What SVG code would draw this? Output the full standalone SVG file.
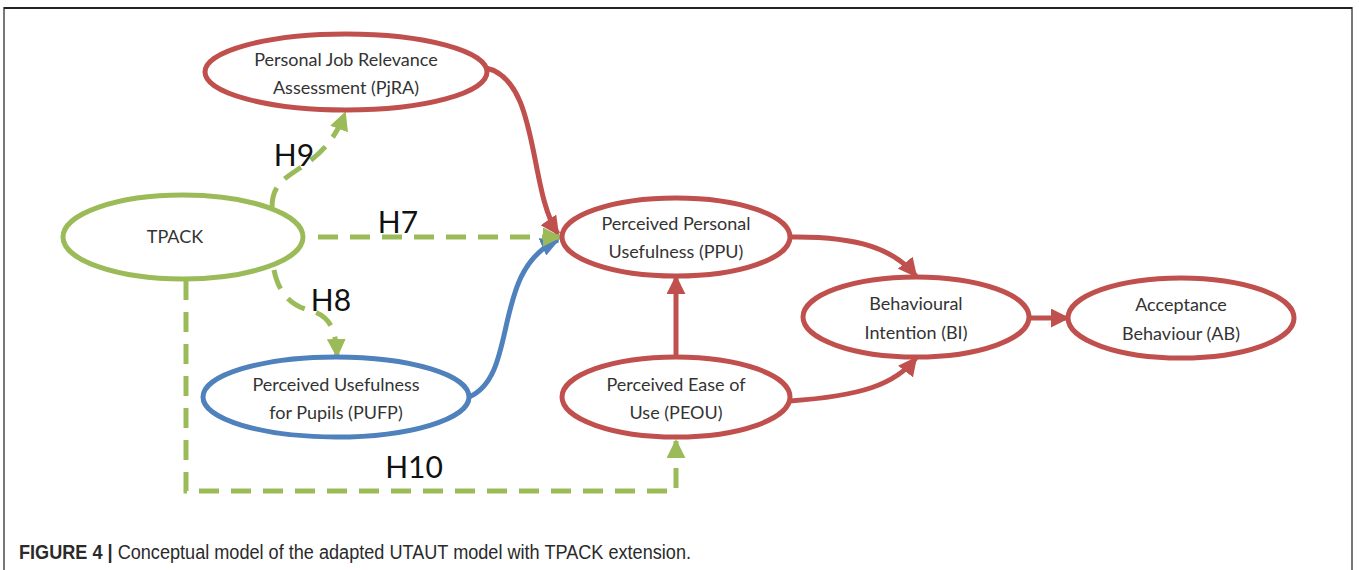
<svg xmlns="http://www.w3.org/2000/svg" width="1359" height="570" viewBox="0 0 1359 570">
<style>
.node{fill:#fff;stroke-width:5}
.red{stroke:#c0504d}
.grn{stroke:#9bbb59}
.blu{stroke:#4f81bd}
.lbl{font-family:Lato,"Open Sans","Liberation Sans",sans-serif;font-size:18px;fill:#333;text-anchor:middle}
.h{font-family:Lato,"Open Sans","Liberation Sans",sans-serif;font-size:30px;fill:#111;text-anchor:middle}
.c{fill:none;stroke-width:5}
.dash{stroke-dasharray:20 12}
.cap{font-family:"Liberation Sans",Arial,sans-serif;font-size:20px;fill:#2a2a2a}
</style>
<defs>
<marker id="ar" viewBox="0 0 10 10" refX="9" refY="5" markerWidth="3.8" markerHeight="3.8" orient="auto" markerUnits="strokeWidth"><path d="M0,0 L10,5 L0,10 Z" fill="#c0504d"/></marker>
<marker id="ag" viewBox="0 0 10 10" refX="9" refY="5" markerWidth="3.8" markerHeight="3.8" orient="auto" markerUnits="strokeWidth"><path d="M0,0 L10,5 L0,10 Z" fill="#9bbb59"/></marker>
<marker id="ab" viewBox="0 0 10 10" refX="9" refY="5" markerWidth="3.8" markerHeight="3.8" orient="auto" markerUnits="strokeWidth"><path d="M0,0 L10,5 L0,10 Z" fill="#4f81bd"/></marker>
</defs>
<rect width="1359" height="570" fill="#fff"/>
<path d="M4,570 V8 H1352 V570" fill="none" stroke="#777" stroke-width="2"/>
<line x1="4" y1="8" x2="1352" y2="8" stroke="#222" stroke-width="2"/>

<g id="connectors">
<path class="c red" d="M486,68 C540,80 528,190 558,234" marker-end="url(#ar)"/>
<path class="c blu" d="M469,397 C520,375 490,270 558,240" marker-end="url(#ab)"/>
<path class="c grn dash" d="M318,237 H560" marker-end="url(#ag)"/>
<path class="c grn dash" d="M272,207 C272,185 285,178 300,168 C320,155 335,140 345,113" marker-end="url(#ag)"/>
<path class="c grn dash" d="M274,270 C280,300 298,308 315,312 C330,318 336,330 337,356" marker-end="url(#ag)"/>
<path class="c grn dash" d="M186,280 V491 H676 V441" marker-end="url(#ag)"/>
<path class="c red" d="M676,357 V277" marker-end="url(#ar)"/>
<path class="c red" d="M790,237 C860,236 895,250 916,276" marker-end="url(#ar)"/>
<path class="c red" d="M790,401 C860,396 895,385 916,358" marker-end="url(#ar)"/>
<path class="c red" d="M1030,318 H1068" marker-end="url(#ar)"/>
<text class="h" x="294" y="166">H9</text>
<text class="h" x="398" y="233">H7</text>
<text class="h" x="331" y="311">H8</text>
<text class="h" x="414" y="478">H10</text>
</g>

<g id="pjra"><ellipse class="node red" cx="346" cy="72" rx="141" ry="38"/><text class="lbl" x="346" y="66">Personal Job Relevance</text><text class="lbl" x="346" y="94">Assessment (PjRA)</text></g>
<g id="tpack"><ellipse class="node grn" cx="183" cy="237" rx="120" ry="42"/><text class="lbl" x="175" y="243">TPACK</text></g>
<g id="ppu"><ellipse class="node red" cx="676" cy="237" rx="114" ry="39"/><text class="lbl" x="676" y="230">Perceived Personal</text><text class="lbl" x="676" y="258">Usefulness (PPU)</text></g>
<g id="bi"><ellipse class="node red" cx="916" cy="317" rx="113" ry="40"/><text class="lbl" x="916" y="310">Behavioural</text><text class="lbl" x="916" y="339">Intention (BI)</text></g>
<g id="ab"><ellipse class="node red" cx="1181" cy="318" rx="113" ry="40"/><text class="lbl" x="1181" y="311">Acceptance</text><text class="lbl" x="1181" y="340">Behaviour (AB)</text></g>
<g id="peou"><ellipse class="node red" cx="676" cy="397" rx="114" ry="40"/><text class="lbl" x="676" y="391">Perceived Ease of</text><text class="lbl" x="676" y="419">Use (PEOU)</text></g>
<g id="pufp"><ellipse class="node blu" cx="336" cy="397" rx="133" ry="40"/><text class="lbl" x="336" y="391">Perceived Usefulness</text><text class="lbl" x="336" y="419">for Pupils (PUFP)</text></g>

<text class="cap" x="19" y="559" textLength="672" lengthAdjust="spacingAndGlyphs"><tspan font-weight="bold">FIGURE 4 | </tspan>Conceptual model of the adapted UTAUT model with TPACK extension.</text>
</svg>
